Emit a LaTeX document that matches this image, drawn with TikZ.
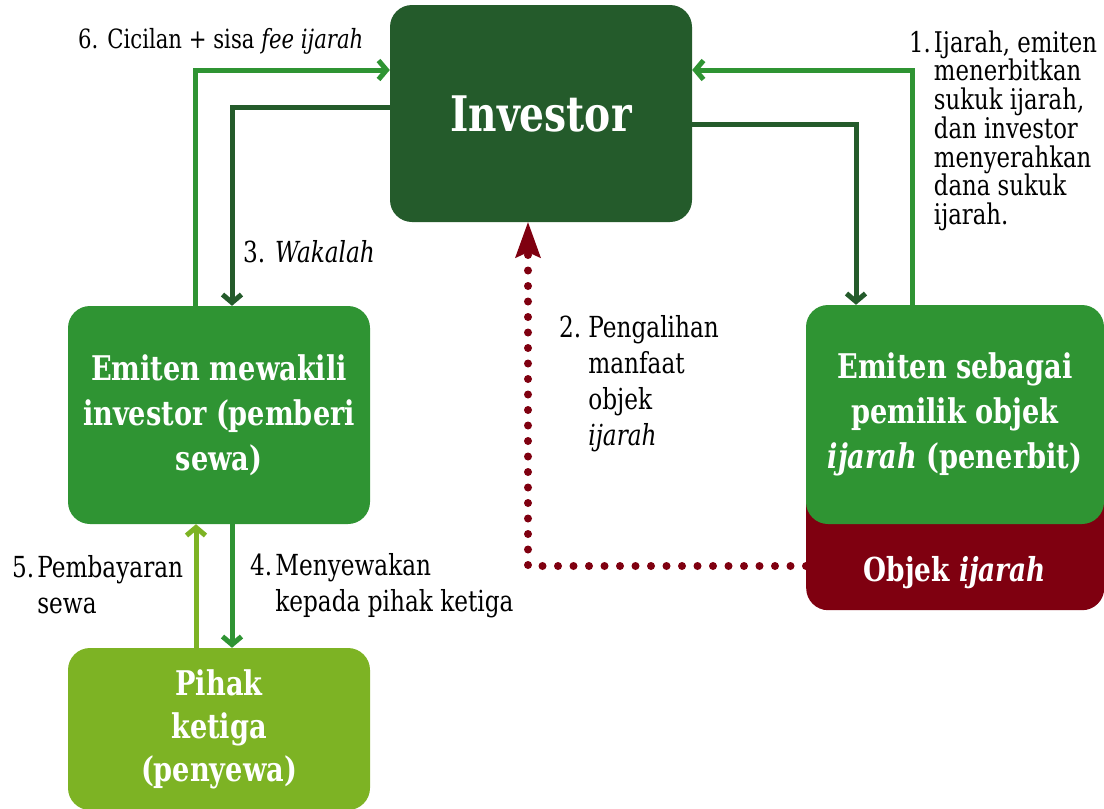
\documentclass[tikz,border=0pt]{standalone}
\usepackage{fontspec}
\setmainfont{DejaVu Serif}[FakeStretch=0.8]
\usetikzlibrary{arrows.meta}
\definecolor{dkgreen}{HTML}{245B2B}
\definecolor{mdgreen}{HTML}{2F9433}
\definecolor{ltgreen}{HTML}{7DB324}
\definecolor{wine}{HTML}{7F0010}
\tikzset{
  box/.style={rectangle, rounded corners=22pt, inner sep=0pt, text=white,
    align=center, font=\bfseries\fontsize{34}{45}\selectfont},
  flow/.style={line width=5pt, -{Straight Barb[length=8pt,width=19pt]}},
  lbl/.style={inner sep=0pt, anchor=base west, text=black,
    font=\fontsize{29}{36}\selectfont},
}
\begin{document}
\begin{tikzpicture}[x=1pt,y=-1pt]
\useasboundingbox (0,0) rectangle (1104,809);
\begin{scope}
\clip (0,0) rectangle (1104,809);
% boxes
\node[box, fill=dkgreen, minimum width=302pt, minimum height=217pt,
  font=\bfseries\fontsize{49}{50}\selectfont] (inv) at (541,113.5) {Investor};
\node[box, fill=mdgreen, minimum width=302pt, minimum height=218pt] (wakil) at (219,415)
  {Emiten mewakili\\investor (pemberi\\sewa)};
\node[box, fill=ltgreen, minimum width=302pt, minimum height=162pt,
  font=\bfseries\fontsize{34}{43}\selectfont] (pihak) at (219,729)
  {Pihak\\ketiga\\(penyewa)};
\node[box, fill=wine, minimum width=298pt, minimum height=140pt, anchor=north west]
  (objek) at (806,470) {};
\node[box, fill=wine, inner sep=0pt, anchor=base, font=\bfseries\fontsize{33}{40}\selectfont]
  (objekt) at (955,581) {Objek \textit{ijarah}};
\node[box, fill=mdgreen, minimum width=298pt, minimum height=219pt] (penerbit) at (955,414.5)
  {Emiten sebagai\\pemilik objek\\\textit{ijarah} (penerbit)};
\end{scope}

% connectors
\coordinate (a6) at (195,70);
\draw[flow, mdgreen] (a6 |- wakil.north) -- (a6) -- (a6 -| inv.west);
\coordinate (a3) at (232,107);
\draw[flow, dkgreen] (a3 -| inv.west) -- (a3) -- (a3 |- wakil.north);
\coordinate (a1) at (912,70);
\draw[flow, mdgreen] (a1 |- penerbit.north) -- (a1) -- (a1 -| inv.east);
\coordinate (ad) at (856,124);
\draw[flow, dkgreen] (ad -| inv.east) -- (ad) -- (ad |- penerbit.north);
\coordinate (a5) at (196,600);
\draw[flow, ltgreen] (a5 |- pihak.north) -- (a5 |- wakil.south);
\coordinate (a4) at (232,600);
\draw[flow, mdgreen] (a4 |- wakil.south) -- (a4 |- pihak.north);
\coordinate (a2) at (528,566);
\draw[wine, line width=8pt, line cap=round, dash pattern=on 0pt off 15.5pt,
  -{Stealth[length=36pt,width=26pt,inset=6pt,line width=0pt]}]
  (objek.west |- a2) -- (a2) -- (a2 |- inv.south);

% labels
\node[lbl, font=\fontsize{26.5}{36}\selectfont] (l6) at (78,48)
  {6. Cicilan + sisa \textit{fee ijarah}};
\node[lbl, font=\fontsize{28.5}{29}\selectfont] (l1) at (909,52)
  {\def\arraystretch{0.817}%
   \begin{tabular}[t]{@{}l@{\hspace{3pt}}l@{}}1.&Ijarah, emiten\\&menerbitkan\\&sukuk ijarah,\\&dan investor\\&menyerahkan\\&dana sukuk\\&ijarah.\end{tabular}};
\node[lbl] (l3) at (243,262) {3. \textit{Wakalah}};
\node[lbl] (l2) at (559,337)
  {\begin{tabular}[t]{@{}l@{\hspace{7pt}}l@{}}2.&Pengalihan\\&manfaat\\&objek\\&\textit{ijarah}\end{tabular}};
\node[lbl] (l5) at (12,577)
  {\begin{tabular}[t]{@{}l@{\hspace{3pt}}l@{}}5.&Pembayaran\\&sewa\end{tabular}};
\node[lbl] (l4) at (250,575)
  {\begin{tabular}[t]{@{}l@{\hspace{3pt}}l@{}}4.&Menyewakan\\&kepada pihak ketiga\end{tabular}};
\end{tikzpicture}
\end{document}
